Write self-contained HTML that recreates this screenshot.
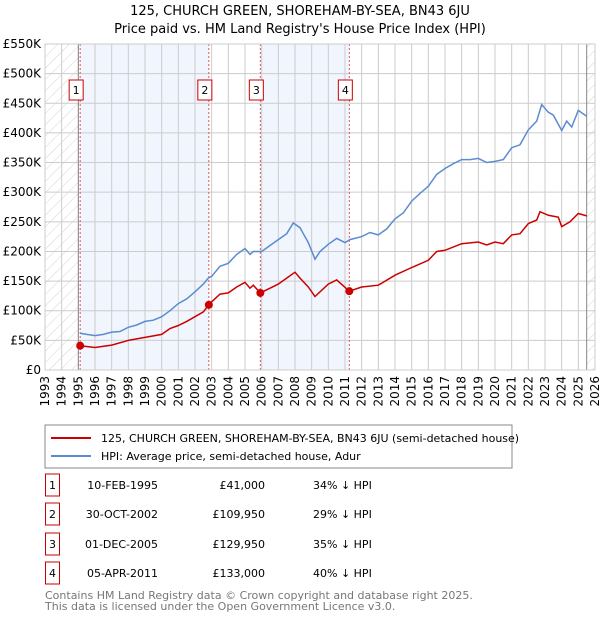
<!DOCTYPE html>
<html><head><meta charset="utf-8"><style>
body{margin:0;background:#fff;font-family:"Liberation Sans","DejaVu Sans",sans-serif;}
svg text{font-family:"DejaVu Sans","Liberation Sans",sans-serif;}
</style></head><body>
<svg id="c" width="600" height="620" viewBox="0 0 600 620" xmlns="http://www.w3.org/2000/svg">
<defs><pattern id="hatch" width="8" height="8" patternUnits="userSpaceOnUse" patternTransform="rotate(45)"><line x1="0" y1="0" x2="0" y2="8" stroke="#d4d4d4" stroke-width="1"/></pattern></defs>
<text x="300" y="15" text-anchor="middle" font-size="13">125, CHURCH GREEN, SHOREHAM-BY-SEA, BN43 6JU</text>
<text x="300" y="33" text-anchor="middle" font-size="13">Price paid vs. HM Land Registry's House Price Index (HPI)</text>
<g id="plot"></g>
<rect x="45" y="425" width="467" height="43" fill="#fff" stroke="#888"/>
<line x1="51" y1="438" x2="91" y2="438" stroke="#cc0000" stroke-width="2"/>
<text x="101" y="442" font-size="11">125, CHURCH GREEN, SHOREHAM-BY-SEA, BN43 6JU (semi-detached house)</text>
<line x1="51" y1="456" x2="91" y2="456" stroke="#5b8bd0" stroke-width="2"/>
<text x="101" y="460" font-size="11">HPI: Average price, semi-detached house, Adur</text>
<g id="table" font-size="11"></g>
<text x="45" y="599" font-size="11" fill="#777">Contains HM Land Registry data © Crown copyright and database right 2025.</text>
<text x="45" y="610" font-size="11" fill="#777">This data is licensed under the Open Government Licence v3.0.</text>
</svg>
<script>
const hpiYears=[1995.1,1995.5,1996,1996.5,1997,1997.5,1998,1998.5,1999,1999.5,2000,2000.5,2001,2001.5,2002,2002.5,2002.8,2003,2003.5,2004,2004.5,2005,2005.3,2005.5,2006,2006.5,2007,2007.5,2007.9,2008.3,2008.5,2008.8,2009.2,2009.5,2010,2010.5,2011,2011.3,2012,2012.5,2013,2013.5,2014,2014.5,2015,2015.5,2016,2016.5,2017,2017.5,2018,2018.5,2019,2019.5,2020,2020.5,2021,2021.5,2022,2022.5,2022.8,2023.2,2023.5,2024,2024.3,2024.6,2025,2025.5];
const hpiValues=[62,60,58,60,64,65,72,76,82,84,90,100,112,120,132,145,155,158,175,180,195,205,195,200,200,210,220,230,248,240,230,215,187,200,212,222,215,220,225,232,228,238,255,265,285,298,310,330,340,348,355,355,357,350,352,355,375,380,405,420,448,435,430,404,420,410,438,428];
const propYears=[1995.11,1996,1997,1998,1999,2000,2000.5,2001,2001.5,2002,2002.5,2002.83,2003,2003.5,2004,2004.5,2005,2005.3,2005.5,2005.92,2006.5,2007,2007.5,2008,2008.3,2008.8,2009.2,2010,2010.5,2011.26,2012,2013,2014,2015,2016,2016.5,2017,2018,2019,2019.5,2020,2020.5,2021,2021.5,2022,2022.5,2022.7,2023.2,2023.8,2024,2024.5,2025,2025.5];
const propValues=[41,38,42,50,55,60,70,75,82,90,98,110,115,128,130,140,148,138,143,130,138,145,155,165,155,140,124,145,152,133,140,143,160,173,185,200,202,213,216,211,216,213,228,230,247,253,267,261,258,242,250,264,260];
const saleYears=[1995.11,2002.83,2005.92,2011.26];
const saleValues=[41,109.95,129.95,133];
const saleLabels=["1","2","3","4"];
const saleDates=["10-FEB-1995","30-OCT-2002","01-DEC-2005","05-APR-2011"];
const salePrices=["£41,000","£109,950","£129,950","£133,000"];
const saleDiffs=["34% ↓ HPI","29% ↓ HPI","35% ↓ HPI","40% ↓ HPI"];
const yTicks=[0,50,100,150,200,250,300,350,400,450,500,550];
const yTickLabels=["£0","£50K","£100K","£150K","£200K","£250K","£300K","£350K","£400K","£450K","£500K","£550K"];
const xTicks=[1993,1994,1995,1996,1997,1998,1999,2000,2001,2002,2003,2004,2005,2006,2007,2008,2009,2010,2011,2012,2013,2014,2015,2016,2017,2018,2019,2020,2021,2022,2023,2024,2025,2026];
const dataEnd=2025.5;

const X0=45,X1=595,Y0=370,Y1=44;
const xs=y=>X0+(y-1993)/(2026-1993)*(X1-X0);
const ys=v=>Y0-v/550*(Y0-Y1);
const NS="http://www.w3.org/2000/svg";
const plot=document.getElementById('plot');
function mk(tag,attrs,parent){const e=document.createElementNS(NS,tag);for(const k in attrs)e.setAttribute(k,attrs[k]);(parent||plot).appendChild(e);return e;}

let bg=mk('rect',{x:X0,y:Y1,width:X1-X0,height:Y0-Y1,fill:'#fff'});


let sh1=mk('rect',{x:xs(saleYears[0]),y:Y1,width:xs(saleYears[1])-xs(saleYears[0]),height:Y0-Y1,fill:'#f1f5fd'});


let sh2=mk('rect',{x:xs(saleYears[2]),y:Y1,width:xs(saleYears[3])-xs(saleYears[2]),height:Y0-Y1,fill:'#f1f5fd'});


let h1=mk('rect',{x:X0,y:Y1,width:xs(1995)-X0,height:Y0-Y1,fill:'url(#hatch)'});


let h2=mk('rect',{x:xs(dataEnd),y:Y1,width:X1-xs(dataEnd),height:Y0-Y1,fill:'url(#hatch)'});



yTicks.forEach((v,i)=>{
  let g=mk('line',{x1:X0,x2:X1,y1:ys(v),y2:ys(v),stroke:'#ccc'});
  
  
  let t=mk('text',{x:X0-4,y:ys(v)+4,'text-anchor':'end','font-size':'12'});
  t.textContent=yTickLabels[i];
  
  
});
xTicks.forEach(y=>{
  let g=mk('line',{x1:xs(y),x2:xs(y),y1:Y1,y2:Y0,stroke:'#ccc'});
  
  
  let t=mk('text',{x:0,y:0,'text-anchor':'end','font-size':'12',transform:`translate(${xs(y)+4},${Y0+6}) rotate(-90)`});
  t.textContent=y;
  
  
});
let v1=mk('line',{x1:xs(1995),x2:xs(1995),y1:Y1,y2:Y0,stroke:'#888'});


let v2=mk('line',{x1:xs(dataEnd),x2:xs(dataEnd),y1:Y1,y2:Y0,stroke:'#888'});



saleYears.forEach((y,i)=>{
  let l=mk('line',{x1:xs(y),x2:xs(y),y1:Y1,y2:Y0,stroke:'#e05555','stroke-dasharray':'2,2'});
  
  
  let b=mk('rect',{x:xs(y)-4-7,y:80,width:14,height:20,fill:'#fff',stroke:'#cc0000'});
  
  
  let t=mk('text',{x:xs(y)-4,y:94,'text-anchor':'middle','font-size':'11'});
  t.textContent=saleLabels[i];
  
  
});

const pts=(a,b)=>a.map((y,i)=>xs(y).toFixed(1)+','+ys(b[i]).toFixed(1)).join(' ');
let hl=mk('polyline',{points:pts(hpiYears,hpiValues),fill:'none',stroke:'#5b8bd0','stroke-width':1.5});


let pl=mk('polyline',{points:pts(propYears,propValues),fill:'none',stroke:'#cc0000','stroke-width':1.5});


saleYears.forEach((y,i)=>{
  let c=mk('circle',{cx:xs(y),cy:ys(saleValues[i]),r:4,fill:'#cc0000'});
  
  
});
let ax=mk('rect',{x:X0,y:Y1,width:X1-X0,height:Y0-Y1,fill:'none',stroke:'#ccc'});



const tbl=document.getElementById('table');
const rowY=[485,514,544,573];
saleLabels.forEach((s,i)=>{
  const y=rowY[i];
  let b=mk('rect',{x:45.5,y:y-11,width:14,height:22,fill:'#fff',stroke:'#cc0000'},tbl);
  
  
  let t=mk('text',{x:52.5,y:y+4,'text-anchor':'middle'},tbl);t.textContent=s;
  
  
  let d=mk('text',{x:158,y:y+4,'text-anchor':'end'},tbl);d.textContent=saleDates[i];
  
  
  let p=mk('text',{x:265,y:y+4,'text-anchor':'end'},tbl);p.textContent=salePrices[i];
  
  
  let h=mk('text',{x:313,y:y+4},tbl);h.textContent=saleDiffs[i];
  
  
});
</script>
</body></html>
